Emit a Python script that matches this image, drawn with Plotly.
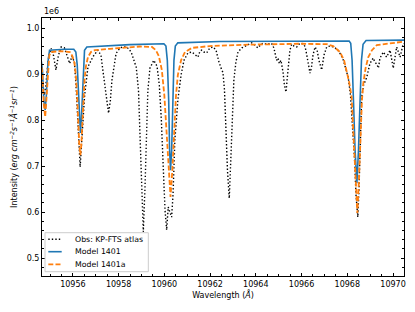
import plotly.graph_objects as go

# ---- data (intensity in units of 1e6 erg cm^-2 s^-1 A^-1 sr^-1) ----
obs_wave = [10954.60, 10954.69, 10954.75, 10954.82, 10954.88, 10954.95, 10955.05, 10955.15, 10955.26, 10955.37,
            10955.49, 10955.63, 10955.74, 10955.86, 10955.96, 10956.07, 10956.15, 10956.24, 10956.32, 10956.39,
            10956.51, 10956.66, 10956.88, 10957.09, 10957.23, 10957.31, 10957.46, 10957.56, 10957.64, 10957.71,
            10957.89, 10958.06, 10958.19, 10958.36, 10958.55, 10958.67, 10958.77, 10958.87, 10958.93, 10959.00,
            10959.08, 10959.15, 10959.22, 10959.28, 10959.37, 10959.54, 10959.68, 10959.78, 10959.87, 10959.96,
            10960.03, 10960.10, 10960.17, 10960.24, 10960.32, 10960.38, 10960.46, 10960.59, 10960.73, 10960.86,
            10961.03, 10961.21, 10961.38, 10961.47, 10961.56, 10961.63, 10961.73, 10961.85, 10961.99, 10962.13,
            10962.26, 10962.39, 10962.51, 10962.56, 10962.63, 10962.69, 10962.76, 10962.84, 10962.91, 10962.98,
            10963.04, 10963.13, 10963.22, 10963.39, 10963.60, 10963.82, 10963.96, 10964.09, 10964.20, 10964.31,
            10964.49, 10964.69, 10964.79, 10964.91, 10964.97, 10965.03, 10965.10, 10965.19, 10965.25, 10965.32,
            10965.41, 10965.49, 10965.57, 10965.67, 10965.79, 10965.89, 10966.01, 10966.11, 10966.19, 10966.28,
            10966.37, 10966.43, 10966.50, 10966.59, 10966.68, 10966.76, 10966.88, 10966.98, 10967.10, 10967.24,
            10967.42, 10967.59, 10967.73, 10967.83, 10967.92, 10968.04, 10968.14, 10968.23, 10968.32, 10968.38,
            10968.46, 10968.51, 10968.58, 10968.63, 10968.71, 10968.85, 10968.99, 10969.13, 10969.21, 10969.29,
            10969.36, 10969.43, 10969.58, 10969.72, 10969.87, 10970.01, 10970.16, 10970.31, 10970.44, 10970.53]
obs_int = [0.926, 0.870, 0.854, 0.876, 0.909, 0.941, 0.956, 0.941, 0.909, 0.941,
           0.959, 0.957, 0.941, 0.923, 0.939, 0.926, 0.865, 0.778, 0.698, 0.757,
           0.851, 0.916, 0.938, 0.952, 0.941, 0.909, 0.851, 0.815, 0.843, 0.887,
           0.945, 0.957, 0.959, 0.959, 0.948, 0.930, 0.915, 0.865, 0.778, 0.648,
           0.557, 0.648, 0.778, 0.865, 0.913, 0.930, 0.917, 0.876, 0.800, 0.691,
           0.604, 0.561, 0.611, 0.600, 0.589, 0.637, 0.757, 0.843, 0.898, 0.930,
           0.946, 0.948, 0.941, 0.937, 0.950, 0.952, 0.948, 0.946, 0.957, 0.959,
           0.952, 0.926, 0.909, 0.904, 0.865, 0.778, 0.691, 0.630, 0.713, 0.822,
           0.887, 0.926, 0.948, 0.957, 0.963, 0.968, 0.963, 0.957, 0.963, 0.967,
           0.965, 0.967, 0.957, 0.930, 0.935, 0.923, 0.930, 0.904, 0.876, 0.861,
           0.909, 0.952, 0.965, 0.961, 0.959, 0.965, 0.967, 0.965, 0.952, 0.926,
           0.902, 0.913, 0.941, 0.959, 0.952, 0.930, 0.909, 0.941, 0.959, 0.961,
           0.959, 0.952, 0.941, 0.930, 0.913, 0.893, 0.854, 0.789, 0.713, 0.637,
           0.589, 0.648, 0.757, 0.850, 0.876, 0.893, 0.923, 0.935, 0.926, 0.922,
           0.913, 0.935, 0.948, 0.937, 0.952, 0.913, 0.959, 0.937, 0.965, 0.967]

m1401_wave = [10954.60, 10954.67, 10954.73, 10954.79, 10954.84, 10954.91, 10954.98, 10955.21, 10955.65, 10956.04,
              10956.13, 10956.19, 10956.24, 10956.28, 10956.33, 10956.37, 10956.42, 10956.46, 10956.51, 10956.61,
              10957.18, 10958.49, 10959.98, 10960.07, 10960.13, 10960.19, 10960.23, 10960.27, 10960.32, 10960.36,
              10960.42, 10960.48, 10960.59, 10962.43, 10965.93, 10968.08, 10968.15, 10968.21, 10968.27, 10968.34,
              10968.42, 10968.49, 10968.56, 10968.62, 10968.69, 10968.82, 10970.53]
m1401_int = [0.935, 0.909, 0.843, 0.822, 0.854, 0.926, 0.952, 0.953, 0.954, 0.954,
             0.948, 0.920, 0.854, 0.800, 0.772, 0.800, 0.854, 0.920, 0.952, 0.959,
             0.961, 0.964, 0.966, 0.961, 0.930, 0.843, 0.735, 0.691, 0.735, 0.843,
             0.930, 0.961, 0.968, 0.971, 0.972, 0.972, 0.967, 0.930, 0.843, 0.735,
             0.663, 0.735, 0.843, 0.930, 0.965, 0.973, 0.974]

m1401a_wave = [10954.60, 10954.67, 10954.73, 10954.79, 10954.84, 10954.91, 10954.97, 10955.05, 10955.43, 10955.87,
               10955.98, 10956.07, 10956.13, 10956.19, 10956.24, 10956.28, 10956.33, 10956.37, 10956.42, 10956.46,
               10956.51, 10956.57, 10956.66, 10956.79, 10956.96, 10957.62, 10958.93, 10959.46, 10959.63, 10959.76,
               10959.89, 10960.00, 10960.09, 10960.18, 10960.27, 10960.35, 10960.44, 10960.51, 10960.59, 10960.73,
               10960.90, 10961.21, 10961.99, 10963.74, 10965.93, 10966.81, 10967.10, 10967.38, 10967.68, 10967.86,
               10967.97, 10968.08, 10968.19, 10968.27, 10968.36, 10968.44, 10968.51, 10968.58, 10968.64, 10968.70,
               10968.80, 10968.92, 10969.08, 10969.29, 10969.87, 10970.53]
m1401a_int = [0.930, 0.898, 0.833, 0.807, 0.843, 0.909, 0.941, 0.948, 0.950, 0.948,
              0.939, 0.924, 0.898, 0.850, 0.789, 0.746, 0.724, 0.746, 0.800, 0.854,
              0.887, 0.917, 0.937, 0.948, 0.952, 0.955, 0.960, 0.959, 0.952, 0.939,
              0.909, 0.854, 0.778, 0.691, 0.633, 0.691, 0.789, 0.854, 0.898, 0.930,
              0.948, 0.957, 0.961, 0.964, 0.966, 0.966, 0.965, 0.961, 0.948, 0.930,
              0.909, 0.883, 0.850, 0.778, 0.670, 0.598, 0.670, 0.778, 0.843, 0.880,
              0.913, 0.937, 0.952, 0.963, 0.967, 0.971]

series_names = ["Obs: KP-FTS atlas", "Model 1401", "Model 1401a"]

x_range = [10954.65, 10970.48]
y_range = [0.461, 1.022]

FONT = "DejaVu Sans"
styles = [dict(color="black", width=1.4, dash="1.4px,2.1px"),
          dict(color="#1f77b4", width=1.6, dash="solid"),
          dict(color="#ff7f0e", width=1.8, dash="5px,2.2px")]

fig = go.Figure()
for xs, ys, name, st in zip([obs_wave, m1401_wave, m1401a_wave],
                            [obs_int, m1401_int, m1401a_int], series_names, styles):
    fig.add_trace(go.Scatter(x=xs, y=ys, mode="lines", name=name, line=st, showlegend=False))

axis_common = dict(showline=True, linecolor="black", linewidth=1, mirror="ticks",
                   ticks="inside", ticklen=3, tickwidth=1, tickcolor="black",
                   showgrid=False, zeroline=False, automargin=False,
                   tickfont=dict(family=FONT, size=8, color="black"))

fig.update_xaxes(range=x_range, dtick=2, tick0=10956, tickformat="d",
                 minor=dict(ticks="inside", ticklen=2, dtick=0.5, tickcolor="black", showgrid=False),
                 title=dict(text="Wavelength (<i>Å</i>)", font=dict(family=FONT, size=8, color="black"),
                            standoff=4),
                 **axis_common)
fig.update_yaxes(range=y_range, dtick=0.1, tick0=0.5, tickformat=".1f",
                 minor=dict(ticks="inside", ticklen=2, dtick=0.02, tickcolor="black", showgrid=False),
                 title=dict(text="Intensity (<i>erg cm<sup>−2</sup>s<sup>−1</sup>Å<sup>−1</sup>sr<sup>−1</sup></i>)",
                            font=dict(family=FONT, size=8, color="black"), standoff=7),
                 **axis_common)

fig.add_annotation(text="1e6", xref="paper", yref="paper", x=0, y=1, xanchor="left", yanchor="bottom",
                   showarrow=False, font=dict(family=FONT, size=8, color="black"))

# ---- legend box (matplotlib-like, compact) ----
fig.add_shape(type="rect", xref="paper", yref="paper", x0=0.0083, x1=0.2937, y0=0.0167, y1=0.1678,
              line=dict(color="#cccccc", width=1), fillcolor="rgba(255,255,255,0.8)", layer="above")
leg_y = [0.1422, 0.0942, 0.0453]
for name, st, yy in zip(series_names, styles, leg_y):
    fig.add_shape(type="line", xref="paper", yref="paper", x0=0.0174, x1=0.0544, y0=yy, y1=yy,
                  line=st, layer="above")
    fig.add_annotation(text=name, xref="paper", yref="paper", x=0.0848, y=yy, xanchor="left",
                       yanchor="middle", showarrow=False, font=dict(family=FONT, size=7.8, color="black"))

fig.update_layout(
    template="none",
    width=415, height=312,
    margin=dict(l=42, r=11, t=18, b=36, autoexpand=False),
    plot_bgcolor="white", paper_bgcolor="white",
    font=dict(family=FONT, size=8, color="black"),
    showlegend=False,
)

fig.write_html("out.html", config={"displayModeBar": False},
               post_script="document.body.style.margin='0';document.body.style.overflow='hidden';")
